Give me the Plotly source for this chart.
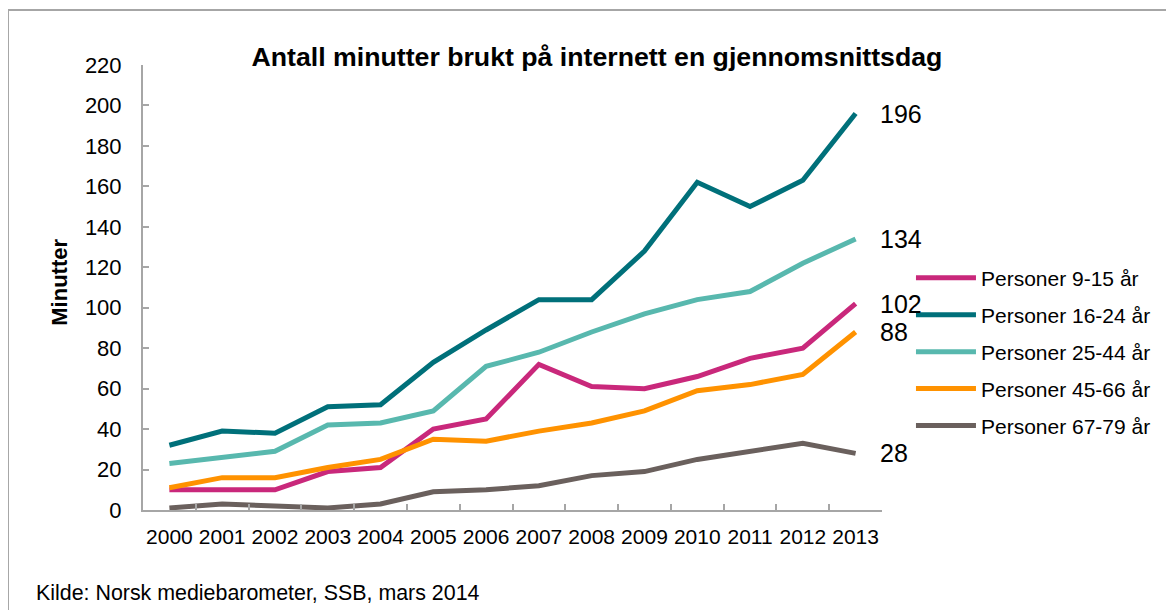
import plotly.graph_objects as go

years = [str(y) for y in range(2000, 2014)]

age_9_15 = [10, 10, 10, 19, 21, 40, 45, 72, 61, 60, 66, 75, 80, 102]
age_16_24 = [32, 39, 38, 51, 52, 73, 89, 104, 104, 128, 162, 150, 163, 196]
age_25_44 = [23, 26, 29, 42, 43, 49, 71, 78, 88, 97, 104, 108, 122, 134]
age_45_66 = [11, 16, 16, 21, 25, 35, 34, 39, 43, 49, 59, 62, 67, 88]
age_67_79 = [1, 3, 2, 1, 3, 9, 10, 12, 17, 19, 25, 29, 33, 28]

series_names = [
    "Personer 9-15 år",
    "Personer 16-24 år",
    "Personer 25-44 år",
    "Personer 45-66 år",
    "Personer 67-79 år",
]
series_values = [age_9_15, age_16_24, age_25_44, age_45_66, age_67_79]
colors = ["#C9287B", "#00707A", "#58B8AE", "#FF9200", "#6A605D"]

y_ticks = list(range(0, 221, 20))

FONT = "Arial, Liberation Sans, sans-serif"
AXIS_COLOR = "#A6A6A6"

fig = go.Figure()

for i, (name, vals, color) in enumerate(zip(series_names, series_values, colors)):
    fig.add_trace(
        go.Scatter(
            x=years,
            y=vals,
            name=name,
            mode="lines",
            line=dict(color=color, width=5),
            legendgroup=f"g{i}",
        )
    )

# value labels at the last year (category index, not the "2013" string)
last_idx = len(years) - 1
for vals in series_values:
    fig.add_annotation(
        x=last_idx,
        y=vals[-1],
        text=str(vals[-1]),
        showarrow=False,
        xanchor="left",
        yanchor="middle",
        xshift=22,
        font=dict(family=FONT, size=25, color="black"),
    )

fig.update_xaxes(
    type="category",
    range=[-0.5, len(years) - 0.5],
    showline=True,
    linecolor=AXIS_COLOR,
    linewidth=2,
    ticks="inside",
    ticklen=6,
    tickcolor=AXIS_COLOR,
    tickwidth=1.5,
    tickson="boundaries",
    tickangle=0,
    showgrid=False,
    zeroline=False,
    automargin=False,
    tickfont=dict(family=FONT, size=21, color="black"),
    ticklabelstandoff=7,
)

fig.update_yaxes(
    range=[0, 220],
    tickvals=y_ticks,
    showline=True,
    linecolor=AXIS_COLOR,
    linewidth=2,
    ticks="inside",
    ticklen=6,
    tickcolor=AXIS_COLOR,
    tickwidth=1.5,
    showgrid=False,
    zeroline=False,
    automargin=False,
    tickfont=dict(family=FONT, size=22, color="black"),
    ticklabelstandoff=15,
)

# y axis title
fig.add_annotation(
    x=-0.1123,
    y=0.5107,
    xref="paper",
    yref="paper",
    text="<b>Minutter</b>",
    textangle=-90,
    showarrow=False,
    xanchor="center",
    yanchor="middle",
    font=dict(family=FONT, size=22, color="black"),
)

# source
fig.add_annotation(
    x=-0.1475,
    y=-0.1874,
    xref="paper",
    yref="paper",
    text="Kilde: Norsk mediebarometer, SSB, mars 2014",
    showarrow=False,
    xanchor="left",
    yanchor="middle",
    font=dict(family=FONT, size=21.4, color="black"),
)

# outer frame
fig.add_shape(
    type="rect",
    xref="paper",
    yref="paper",
    x0=-0.1827,
    x1=1.45,
    y0=-0.35,
    y1=1.1235,
    line=dict(color=AXIS_COLOR, width=2),
    layer="below",
)

# the page body adds an 8px offset, so the figure is 8px smaller
fig.update_layout(
    width=1166,
    height=602,
    margin=dict(l=135, r=292, t=57, b=100),
    paper_bgcolor="white",
    plot_bgcolor="white",
    font=dict(family=FONT, color="black"),
    title=dict(
        text="<b>Antall minutter brukt på internett en gjennomsnittsdag</b>",
        x=0.5051,
        xanchor="center",
        y=0.9186,
        yanchor="middle",
        font=dict(family=FONT, size=26.7, color="black"),
    ),
    legend=dict(
        x=1.0392,
        xanchor="left",
        y=0.567,
        yanchor="top",
        itemwidth=60,
        font=dict(family=FONT, size=21, color="black"),
        tracegroupgap=6.6,
        bgcolor="rgba(0,0,0,0)",
    ),
)

fig.write_html("out.html")
